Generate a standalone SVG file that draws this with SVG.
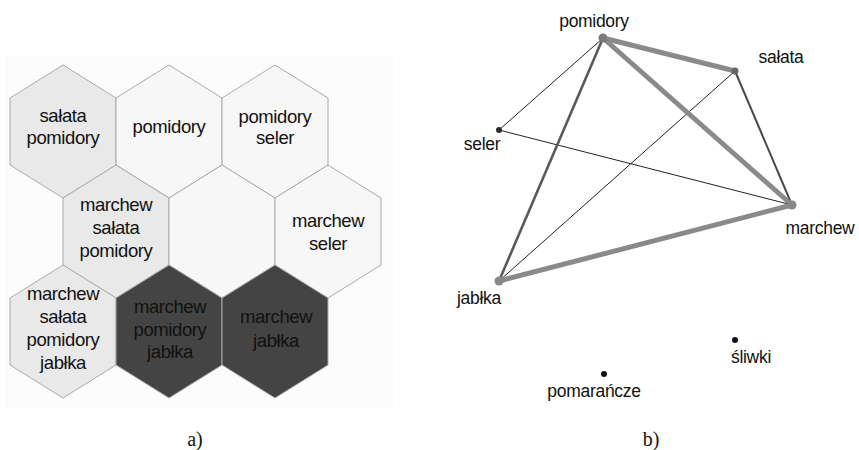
<svg xmlns="http://www.w3.org/2000/svg" xmlns:xlink="http://www.w3.org/1999/xlink" width="859" height="450" viewBox="0 0 859 450">
  <defs>
    <path id="hex" d="M0,0 L53,33 L53,100 L0,133 L-53,100 L-53,33 Z"/>
    <style>
      .hx { stroke: #ababab; stroke-width: 1; }
      .g1 { fill: #e9e9e9; }
      .g2 { fill: #f7f7f7; }
      .g3 { fill: #444444; }
      .ht { font-family: "Liberation Sans", Arial, sans-serif; font-size: 18.5px; fill: #111; text-anchor: middle; letter-spacing: -0.4px; }
      .ht.dk { fill: #111; }
      .lb { font-family: "Liberation Sans", Arial, sans-serif; font-size: 17.5px; fill: #111; letter-spacing: -0.3px; }
      .cap { font-family: "Liberation Serif", "Times New Roman", serif; font-size: 20px; fill: #111; text-anchor: middle; }
      .thick { stroke: #8a8a8a; stroke-width: 5; stroke-linecap: round; fill: none; }
      .mid { stroke: #5a5a5a; stroke-width: 2.6; stroke-linecap: round; fill: none; }
      .mid2 { stroke: #4a4a4a; stroke-width: 2; stroke-linecap: round; fill: none; }
      .thin { stroke: #222; stroke-width: 1; fill: none; }
    </style>
  </defs>

  <rect x="5" y="55" width="388" height="353" fill="#fcfcfc"/>

  <!-- a) hex map -->
  <g id="hex-r1c1"><use href="#hex" x="63" y="65" class="hx g1"/>
    <text class="ht" x="63" y="122">sałata</text><text class="ht" x="63" y="144">pomidory</text></g>
  <g id="hex-r1c2"><use href="#hex" x="169" y="65" class="hx g2"/>
    <text class="ht" x="169" y="133">pomidory</text></g>
  <g id="hex-r1c3"><use href="#hex" x="275" y="65" class="hx g2"/>
    <text class="ht" x="275" y="123">pomidory</text><text class="ht" x="275" y="144">seler</text></g>

  <g id="hex-r2c1"><use href="#hex" x="116" y="165" class="hx g1"/>
    <text class="ht" x="116" y="211">marchew</text><text class="ht" x="116" y="234">sałata</text><text class="ht" x="116" y="257">pomidory</text></g>
  <g id="hex-r2c2"><use href="#hex" x="222" y="165" class="hx g2"/></g>
  <g id="hex-r2c3"><use href="#hex" x="328" y="165" class="hx g2"/>
    <text class="ht" x="328" y="227">marchew</text><text class="ht" x="328" y="250">seler</text></g>

  <g id="hex-r3c1"><use href="#hex" x="63" y="265" class="hx g1"/>
    <text class="ht" x="63" y="300">marchew</text><text class="ht" x="63" y="323">sałata</text><text class="ht" x="63" y="346">pomidory</text><text class="ht" x="63" y="369">jabłka</text></g>
  <g id="hex-r3c2"><use href="#hex" x="169" y="265" class="hx g3"/>
    <text class="ht dk" x="170" y="313">marchew</text><text class="ht dk" x="170" y="336">pomidory</text><text class="ht dk" x="170" y="358">jabłka</text></g>
  <g id="hex-r3c3"><use href="#hex" x="275" y="265" class="hx g3"/>
    <text class="ht dk" x="276" y="323">marchew</text><text class="ht dk" x="276" y="347">jabłka</text></g>

  <text class="cap" x="195" y="446">a)</text>

  <!-- b) graph connectors -->
  <g id="connectors">
    <line class="thin" x1="603" y1="38" x2="499" y2="130"/>
    <line class="thin" x1="499" y1="130" x2="792" y2="205"/>
    <line class="thin" x1="735" y1="71" x2="499" y2="281"/>
    <line class="mid2" x1="735" y1="71" x2="792" y2="205"/>
    <line class="mid" x1="603" y1="38" x2="499" y2="281"/>
    <line class="thick" x1="603" y1="38" x2="735" y2="71"/>
    <line class="thick" x1="603" y1="38" x2="792" y2="205"/>
    <line class="thick" x1="792" y1="205" x2="499" y2="281"/>
  </g>

  <g id="n-pomidory"><circle cx="603" cy="38" r="4.5" fill="#7a7a7a"/>
    <text class="lb" x="594" y="27" text-anchor="middle">pomidory</text></g>
  <g id="n-salata"><circle cx="735" cy="71" r="3.5" fill="#666"/>
    <text class="lb" x="781" y="63" text-anchor="middle">sałata</text></g>
  <g id="n-seler"><circle cx="499" cy="130" r="3" fill="#2a2a2a"/>
    <text class="lb" x="482" y="150" text-anchor="middle">seler</text></g>
  <g id="n-marchew"><circle cx="792" cy="205" r="4.5" fill="#888"/>
    <text class="lb" x="820" y="234" text-anchor="middle">marchew</text></g>
  <g id="n-jablka"><circle cx="499" cy="281" r="4.5" fill="#888"/>
    <text class="lb" x="479" y="304" text-anchor="middle">jabłka</text></g>
  <g id="n-pomarancze"><circle cx="604" cy="374" r="3" fill="#111"/>
    <text class="lb" x="594" y="397" text-anchor="middle">pomarańcze</text></g>
  <g id="n-sliwki"><circle cx="735" cy="340" r="3" fill="#111"/>
    <text class="lb" x="751" y="363" text-anchor="middle">śliwki</text></g>

  <text class="cap" x="651" y="446">b)</text>
</svg>
